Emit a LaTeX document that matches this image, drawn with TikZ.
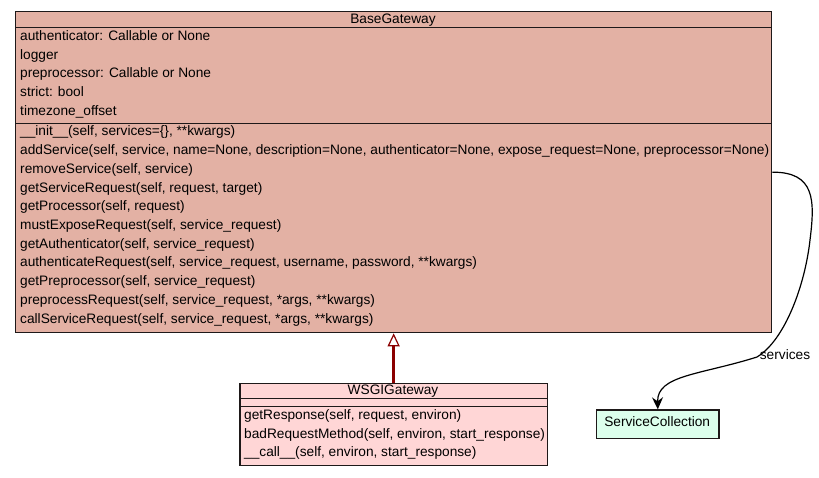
\documentclass[tikz,border=0pt]{standalone}
\usepackage{fontspec}
\setmainfont{Liberation Sans}
\usetikzlibrary{arrows.meta}
\definecolor{basefill}{RGB}{227,177,164}
\definecolor{wsgifill}{RGB}{255,214,214}
\definecolor{collfill}{RGB}{220,255,236}
\definecolor{inherit}{RGB}{139,0,0}
\definecolor{boxline}{RGB}{30,25,25}
\tikzset{
  classbox/.style={draw=boxline, line width=1.3pt, rectangle, inner sep=0pt, anchor=north west},
  member/.style={anchor=west, inner sep=0pt, text height=9.8pt, text depth=2.8pt, font=\fontsize{13.7}{16}\selectfont},
  title/.style={inner sep=0pt, text height=9.8pt, text depth=2.8pt, font=\fontsize{13.7}{16}\selectfont},
  sepline/.style={draw=boxline, line width=1.3pt},
  generalization/.style={draw=inherit, line width=2.5pt, -{Triangle[open, fill=white, length=13pt, width=12pt, line width=1.2pt]}},
  association/.style={draw=black, line width=1.2pt, -{Stealth[length=12pt, width=11pt, inset=4pt]}}
}
\begin{document}
\begin{tikzpicture}[x=1pt, y=-1pt]
\useasboundingbox[fill=white] (0,0) rectangle (819,477);

% BaseGateway class
\node[classbox, fill=basefill, minimum width=756pt, minimum height=321pt] (base) at (15,11) {};
\node[title] (basetitle) at (393,19.5) {BaseGateway};
\draw[sepline] (15,27.7) -- (771,27.7);
\draw[sepline] (15,123.3) -- (771,123.3);
\node[member] (ba1) at (20,36.5) {authenticator: Callable or None};
\node[member] (ba2) at (20,55.5) {logger};
\node[member] (ba3) at (20,74) {preprocessor: Callable or None};
\node[member] (ba4) at (20,92.5) {strict: bool};
\node[member] (ba5) at (20,111.5) {timezone\_offset};
\node[member] (bm1) at (20,131.5) {\_\_init\_\_(self, services=\{\}, **kwargs)};
\node[member] (bm2) at (20,151) {addService(self, service, name=None, description=None, authenticator=None, expose\_request=None, preprocessor=None)};
\node[member] (bm3) at (20,169.5) {removeService(self, service)};
\node[member] (bm4) at (20,188.5) {getServiceRequest(self, request, target)};
\node[member] (bm5) at (20,207) {getProcessor(self, request)};
\node[member] (bm6) at (20,225.5) {mustExposeRequest(self, service\_request)};
\node[member] (bm7) at (20,244.5) {getAuthenticator(self, service\_request)};
\node[member] (bm8) at (20,263) {authenticateRequest(self, service\_request, username, password, **kwargs)};
\node[member] (bm9) at (20,282) {getPreprocessor(self, service\_request)};
\node[member] (bm10) at (20,300.5) {preprocessRequest(self, service\_request, *args, **kwargs)};
\node[member] (bm11) at (20,320) {callServiceRequest(self, service\_request, *args, **kwargs)};

% WSGIGateway class
\node[classbox, fill=wsgifill, minimum width=307.4pt, minimum height=82.3pt] (wsgi) at (239.3,382.7) {};
\node[title] (wsgititle) at (393,390.7) {WSGIGateway};
\draw[sepline] (239.3,398.7) -- (546.7,398.7);
\draw[sepline] (239.3,406.7) -- (546.7,406.7);
\node[member] (wm1) at (244,416) {getResponse(self, request, environ)};
\node[member] (wm2) at (244,434.5) {badRequestMethod(self, environ, start\_response)};
\node[member] (wm3) at (244,453) {\_\_call\_\_(self, environ, start\_response)};

% ServiceCollection class
\node[classbox, fill=collfill, minimum width=122.3pt, minimum height=28.4pt] (coll) at (596,409.3) {};
\node[title] (colltitle) at (657.2,422.5) {ServiceCollection};

% inheritance
\draw[generalization] (wsgi.north) -- (base.south);

% association
\draw[association] (base.east) .. controls (815,172) and (815,200) .. (810,240)
  .. controls (805,285) and (785,340) .. (757,357)
  .. controls (700,375) and (657,375) .. (coll.north);
\node[title] (assoclabel) at (785,356) {services};
\end{tikzpicture}
\end{document}
